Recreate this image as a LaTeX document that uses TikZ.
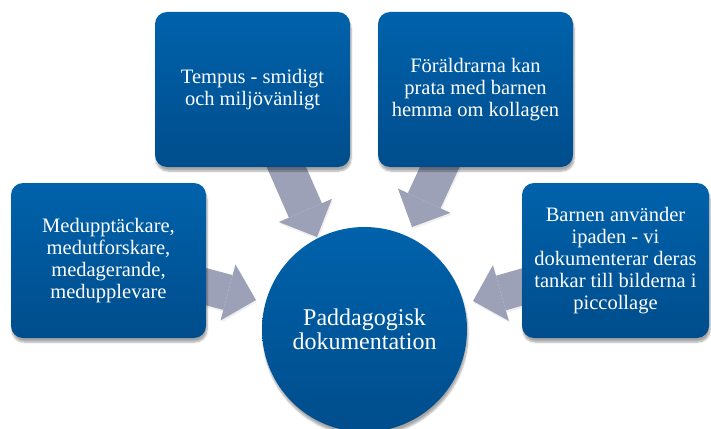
\documentclass[tikz,border=0pt]{standalone}
\usepackage{fontspec}
\setmainfont{Liberation Serif}
\usepackage{tikz}
\usetikzlibrary{positioning, arrows.meta, shadows.blur, backgrounds}

\definecolor{boxtop}{RGB}{0,98,171}
\definecolor{boxbot}{RGB}{0,77,140}
\definecolor{feedgray}{RGB}{156,161,183}

\tikzset{
  topic/.style={rectangle, rounded corners=12pt, minimum width=195pt, minimum height=155pt,
    inner sep=2pt, top color=boxtop, bottom color=boxbot, text=white, align=center,
    font=\fontsize{20.5}{22}\selectfont,
    blur shadow={shadow xshift=1pt, shadow yshift=-4pt, shadow blur steps=6, shadow opacity=35}},
  hub/.style={circle, minimum size=205pt, inner sep=0pt, top color=boxtop, bottom color=boxbot,
    text=white, align=center, font=\fontsize{24}{24}\selectfont,
    blur shadow={shadow xshift=1pt, shadow yshift=-4pt, shadow blur steps=6, shadow opacity=35}},
  feed/.style={line width=36pt, draw=feedgray, shorten <=-10pt,
    -{Triangle[width=58pt, length=29pt, line width=0pt]}},
  feedshadow/.style={feed, draw=black!6, transform canvas={xshift=1pt, yshift=-2pt}},
}

\begin{document}
\begin{tikzpicture}[x=1pt, y=-1pt]
  \useasboundingbox (0,0) rectangle (711,428);

  \node[hub] (doc) at (364.5,329.5) {Paddagogisk\\dokumentation};

  \node[topic] (med) at (108.5,260.5) {Medupptäckare,\\medutforskare,\\medagerande,\\medupplevare};
  \node[topic] (tempus) at (252.5,89.5) {Tempus - smidigt\\och miljövänligt};
  \node[topic] (parents) at (475.5,89.5) {Föräldrarna kan\\prata med barnen\\hemma om kollagen};
  \node[topic, minimum width=187pt] (ipad) at (615.5,260.5) {Barnen använder\\ipaden - vi\\dokumenterar deras\\tankar till bilderna i\\piccollage};

  \coordinate (tipmed) at (256,300);
  \coordinate (tiptempus) at (317,237);
  \coordinate (tipparents) at (412,227);
  \coordinate (tipipad) at (473,301);

  \begin{scope}[on background layer]
    \draw[feedshadow] (med) -- (tipmed);
    \draw[feedshadow] (tempus) -- (tiptempus);
    \draw[feedshadow] (parents) -- (tipparents);
    \draw[feedshadow] (ipad) -- (tipipad);
    \draw[feed] (med) -- (tipmed);
    \draw[feed] (tempus) -- (tiptempus);
    \draw[feed] (parents) -- (tipparents);
    \draw[feed] (ipad) -- (tipipad);
  \end{scope}
\end{tikzpicture}
\end{document}
